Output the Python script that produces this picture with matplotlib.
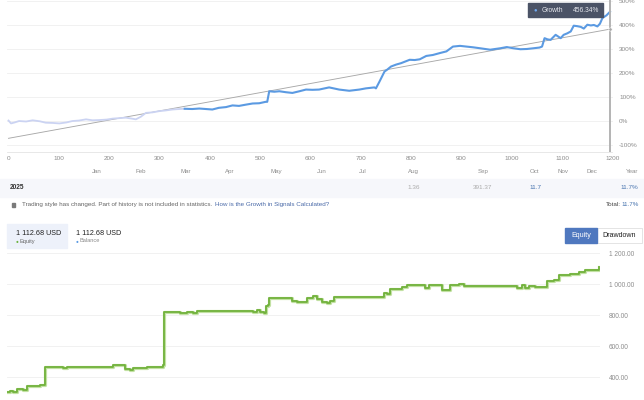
import matplotlib
matplotlib.use('Agg')
import matplotlib.pyplot as plt
import matplotlib.transforms as mtransforms
from matplotlib.patches import Rectangle
from matplotlib.ticker import FixedLocator, FuncFormatter

plt.rcParams['font.family'] = ['Liberation Sans', 'DejaVu Sans']

# ── Growth chart data (trade index vs growth %) ──────────────────────
hist_x = [0, 5, 12, 21, 35, 48, 62, 74, 88, 101, 115, 127, 140, 154, 167,
          180, 195, 207, 220, 233, 245, 253, 263, 273, 286, 299, 312, 326, 340, 350]
hist_y = [2, -10, -6, 0, -2, 3, -1, -7, -8, -10, -6, 0, 2, 7, 3,
          4, 6, 10, 12, 14, 10, 7, 18, 34, 36, 41, 44, 48, 50, 51]

growth_x = [350, 365, 379, 392, 405, 418, 432, 445, 458, 471, 485, 498, 511, 514,
            518, 528, 538, 551, 564, 578, 591, 604, 617, 637, 657, 677, 697, 710,
            727, 730, 737, 742, 747, 753, 760, 770, 780, 797, 807, 817, 830, 843,
            857, 870, 883, 897, 910, 923, 937, 957, 977, 990, 1003, 1017, 1030,
            1043, 1055, 1060, 1065, 1071, 1077, 1087, 1092, 1097, 1103, 1110, 1117,
            1123, 1130, 1137, 1143, 1150, 1157, 1163, 1170, 1175, 1180, 1188, 1195]
growth_y = [51, 50, 52, 50, 48, 55, 58, 65, 63, 68, 73, 74, 80, 80,
            124, 122, 124, 120, 117, 124, 131, 130, 131, 140, 131, 126, 131, 136,
            140, 136, 164, 185, 206, 215, 227, 235, 241, 255, 254, 257, 271, 275,
            283, 290, 310, 313, 310, 307, 303, 297, 303, 308, 303, 299, 300,
            303, 306, 310, 345, 340, 338, 359, 352, 345, 359, 365, 373,
            397, 395, 392, 385, 401, 398, 400, 394, 405, 429, 440, 455]

trend_x = [0, 1196]
trend_y = [-72, 383]
last_trade = 1196
growth_label = "456.34%"

months = ["Jan", "Feb", "Mar", "Apr", "May", "Jun", "Jul", "Aug", "Sep", "Oct",
          "Nov", "Dec", "Year"]
month_pos = [175, 263, 353, 440, 532, 622, 703, 805, 942, 1046, 1102, 1160, 1239]
year_row = {"Aug": "1.36", "Sep": "391.37", "Oct": "11.7"}
year_total = "11.7%"

# ── Equity chart data ────────────────────────────────────────────────
equity_t = [0, 3, 6, 10, 13, 16, 20, 26, 33, 37, 38, 53, 56, 60, 103, 106, 115,
            118, 123, 126, 140, 146, 156, 157, 166, 173, 180, 186, 190, 193, 240,
            246, 250, 253, 257, 259, 261, 262, 281, 285, 290, 298, 300, 306, 310,
            315, 320, 323, 327, 375, 377, 380, 383, 393, 395, 400, 415, 418, 422,
            433, 435, 440, 443, 452, 457, 507, 510, 515, 518, 522, 528, 537, 540,
            547, 552, 558, 563, 572, 578, 585, 592]
equity_v = [308, 314, 308, 325, 325, 318, 346, 346, 350, 350, 465, 465, 458, 465,
            465, 480, 480, 452, 447, 458, 465, 469, 480, 824, 824, 813, 824, 813,
            828, 830, 830, 824, 834, 824, 817, 860, 867, 910, 910, 892, 888, 888,
            910, 927, 905, 888, 880, 895, 917, 917, 945, 939, 972, 972, 983, 994,
            998, 977, 998, 998, 966, 964, 994, 1004, 989, 989, 977, 994, 974, 989,
            983, 983, 1021, 1026, 1060, 1062, 1066, 1081, 1091, 1094, 1110]
equity_now = "1 112.68 USD"
balance_now = "1 112.68 USD"

W, H = 644, 400
fig = plt.figure(figsize=(W / 100, H / 100), dpi=100)


def fx(x):
    return x / W


def fy(y):
    return 1 - y / H


GRAY = "#8c8c8c"
BLUE_TXT = "#4a76b0"

# background bands (behind everything)
fig.patches.append(Rectangle((0, fy(196.5)), 1, 17.5 / H,
                             transform=fig.transFigure, color="#f6f7fb", zorder=-5))
fig.patches.append(Rectangle((fx(6.7), fy(247.7)), 60 / W, 23.4 / H,
                             transform=fig.transFigure, color="#edf1fa", zorder=-5))

# ── Top: growth ─────────────────────────────────────────────────────
ax1 = fig.add_axes([fx(7), fy(152), (612.5 - 7) / W, 152 / H])
ax1.patch.set_alpha(0)
ax1.set_xlim(-3, 1200)
ax1.set_ylim(-129, 504)
for s in ["top", "left", "right"]:
    ax1.spines[s].set_visible(False)
ax1.spines["bottom"].set_color("#e4e4e4")
ax1.spines["bottom"].set_linewidth(0.6)
ax1.yaxis.set_major_locator(FixedLocator(range(-100, 501, 100)))
ax1.yaxis.set_major_formatter(FuncFormatter(lambda v, p: f"{int(v)}%"))
ax1.xaxis.set_major_locator(FixedLocator(range(0, 1201, 100)))
ax1.yaxis.tick_right()
ax1.grid(axis="y", color="#efefef", linewidth=0.6)
ax1.tick_params(axis="y", length=0, pad=4.7, labelsize=4.6, labelcolor=GRAY)
ax1.tick_params(axis="x", length=0, pad=3.2, labelsize=4.6, labelcolor=GRAY)
ax1.set_axisbelow(True)

ax1.plot(trend_x, trend_y, color="#a8a8a8", linewidth=0.65, zorder=2)
ax1.plot(hist_x, hist_y, color="#cbd3f2", linewidth=1.3, zorder=3,
         solid_joinstyle="round")
ax1.plot(growth_x, growth_y, color="#5b9ae2", linewidth=1.5, zorder=4,
         solid_joinstyle="round")
ax1.axvline(last_trade, color="#b3b3b3", linewidth=1.4, zorder=5)
ax1.plot([trend_x[-1]], [trend_y[-1]], "o", color="#a8a8a8", markersize=2.4,
         markeredgecolor="white", markeredgewidth=0.4, zorder=6)

# tooltip
fig.patches.append(Rectangle((fx(528), fy(16.7)), 75 / W, 13.4 / H,
                             transform=fig.transFigure, color="#4b5366", zorder=10))
fig.text(fx(535), fy(10.2), "●", color="#6fa8f0", fontsize=4.2, ha="center",
         va="center", zorder=11)
fig.text(fx(541.5), fy(10), "Growth", color="#e6e8ee", fontsize=4.8,
         va="center", zorder=11)
fig.text(fx(599.5), fy(10), growth_label, color="#e6e8ee", fontsize=4.8,
         ha="right", va="center", zorder=11)

# month labels under the axis
trans = mtransforms.blended_transform_factory(ax1.transData, fig.transFigure)
for m, p in zip(months, month_pos):
    ax1.text(p, fy(171.7), m, transform=trans, fontsize=4.4, color=GRAY,
             ha="center", va="center", clip_on=False)

# year row
fig.text(fx(10), fy(187.6), "2025", fontsize=4.7, fontweight="bold",
         color="#333333", va="center")
for m, p in zip(months, month_pos):
    if m in year_row:
        col = BLUE_TXT if m == "Oct" else "#ababab"
        ax1.text(p, fy(187.6), year_row[m], transform=trans, fontsize=4.6,
                 color=col, ha="center", va="center", clip_on=False)
fig.text(fx(638.5), fy(187.6), year_total, fontsize=4.6, color=BLUE_TXT,
         ha="right", va="center")

# note line
fig.patches.append(Rectangle((fx(11.5), fy(206.7)), 4 / W, 4 / H,
                             transform=fig.transFigure, color="#7a7a7a"))
t1 = fig.text(fx(22), fy(204.6),
              "Trading style has changed. Part of history is not included in statistics.",
              fontsize=4.5, color="#666666", va="center")
renderer = fig.canvas.get_renderer()
bb = t1.get_window_extent(renderer=renderer)
fig.text(bb.x1 / W + fx(2.5), fy(204.6), "How is the Growth in Signals Calculated?",
         fontsize=4.5, color="#4a6aa8", va="center")
fig.text(fx(620.5), fy(204.6), "Total:", fontsize=4.5, color="#444444",
         ha="right", va="center")
fig.text(fx(638.5), fy(204.6), year_total, fontsize=4.5, color=BLUE_TXT,
         ha="right", va="center")

# ── Bottom header ───────────────────────────────────────────────────
fig.text(fx(16), fy(233.3), equity_now, fontsize=5.2, color="#222222", va="center")
fig.text(fx(16.7), fy(241.2), "●", fontsize=3.4, color="#6db33f", ha="center", va="center")
fig.text(fx(19.5), fy(241), "Equity", fontsize=4.1, color="#666666", va="center")
fig.text(fx(76), fy(233.3), balance_now, fontsize=5.2, color="#222222", va="center")
fig.text(fx(77), fy(241.2), "●", fontsize=3.4, color="#5c9be3", ha="center", va="center")
fig.text(fx(80), fy(241), "Balance", fontsize=4.1, color="#8a8a8a", va="center")

fig.patches.append(Rectangle((fx(597), fy(242.7)), 44.7 / W, 15 / H,
                             transform=fig.transFigure, facecolor="white",
                             edgecolor="#d9d9d9", linewidth=0.5))
fig.patches.append(Rectangle((fx(565), fy(242.7)), 32 / W, 15 / H,
                             transform=fig.transFigure, color="#4f78bf"))
fig.text(fx(581), fy(235.3), "Equity", fontsize=5.1, color="white",
         ha="center", va="center")
fig.text(fx(619.3), fy(235.3), "Drawdown", fontsize=5.1, color="#222222",
         ha="center", va="center")

# ── Bottom: equity ──────────────────────────────────────────────────
ax2 = fig.add_axes([fx(7), 0, 593 / W, 150 / H])
ax2.patch.set_alpha(0)
ax2.set_xlim(0, 593)
ax2.set_ylim(254, 1221)
for s in ax2.spines.values():
    s.set_visible(False)
ax2.yaxis.set_major_locator(FixedLocator(range(400, 1201, 200)))
ax2.yaxis.set_major_formatter(
    FuncFormatter(lambda v, p: f"{v:,.2f}".replace(",", " ")))
ax2.yaxis.tick_right()
ax2.set_xticks([])
ax2.grid(axis="y", color="#efefef", linewidth=0.6)
ax2.tick_params(axis="y", length=0, pad=6.5, labelsize=4.7, labelcolor=GRAY)
ax2.set_axisbelow(True)

ax2.plot(equity_t, equity_v, drawstyle="steps-post", color="#c2e1a3",
         linewidth=2.3, zorder=2)
ax2.plot(equity_t, equity_v, drawstyle="steps-post", color="#72b23d",
         linewidth=1.3, zorder=3)

plt.savefig("out.png", dpi=100)
